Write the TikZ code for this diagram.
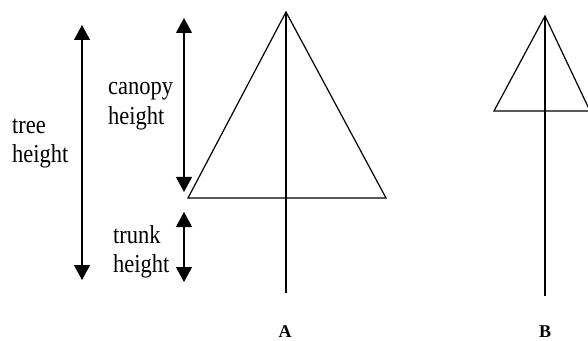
\documentclass[tikz,border=0pt]{standalone}
\usepackage{fontspec}
\usepackage{graphicx}
\setmainfont{Liberation Serif}
\usetikzlibrary{arrows.meta}
\newcommand{\talltext}[1]{\scalebox{1}[1.15]{#1}}
\begin{document}
\begin{tikzpicture}[x=1pt,y=1pt,
  outline/.style={line width=1.2pt, line join=miter},
  dimarrow/.style={line width=1.2pt, {Triangle[width=16pt,length=15pt]}-{Triangle[width=16pt,length=15pt]}},
  lbl/.style={anchor=base west, inner sep=0pt, font=\fontsize{22.5}{27}\selectfont},
  tag/.style={anchor=base, inner sep=0pt, font=\fontsize{18}{21}\selectfont\bfseries}]
\useasboundingbox (0,0) rectangle (588,340);
% tree A
\coordinate (aTop) at (286,328);
\coordinate (aBL) at (188,142);
\coordinate (aBR) at (386,142);
\coordinate (aBot) at (286,47);
\draw[outline] (aTop) -- (aBL) -- (aBR) -- cycle;
\draw[outline] (aTop) -- (aBot);
% tree B
\coordinate (bTop) at (545,324);
\coordinate (bBL) at (494,229);
\coordinate (bBR) at (590,229);
\coordinate (bBot) at (545,44);
\begin{scope}
\clip (0,0) rectangle (588,340);
\draw[outline] (bTop) -- (bBL) -- (bBR) -- cycle;
\end{scope}
\draw[outline] (bTop) -- (bBot);
% dimension arrows
\coordinate (tTop) at (82,315);
\coordinate (tBot) at (82,60);
\coordinate (cTop) at (184,322);
\coordinate (cBot) at (184,148);
\coordinate (kTop) at (184,128);
\coordinate (kBot) at (184,58);
\draw[dimarrow] (tTop) -- (tBot);
\draw[dimarrow] (cTop) -- (cBot);
\draw[dimarrow] (kTop) -- (kBot);
% labels
\node[lbl] (treeA) at (12,206) {\talltext{tree}};
\node[lbl] (treeB) at (12,177) {\talltext{height}};
\node[lbl] (canA) at (108,245) {\talltext{canopy}};
\node[lbl] (canB) at (108,215) {\talltext{height}};
\node[lbl] (trA) at (113,97) {\talltext{trunk}};
\node[lbl] (trB) at (113,68) {\talltext{height}};
\node[tag] (labA) at (285,3) {A};
\node[tag] (labB) at (545,3) {B};
\end{tikzpicture}
\end{document}
